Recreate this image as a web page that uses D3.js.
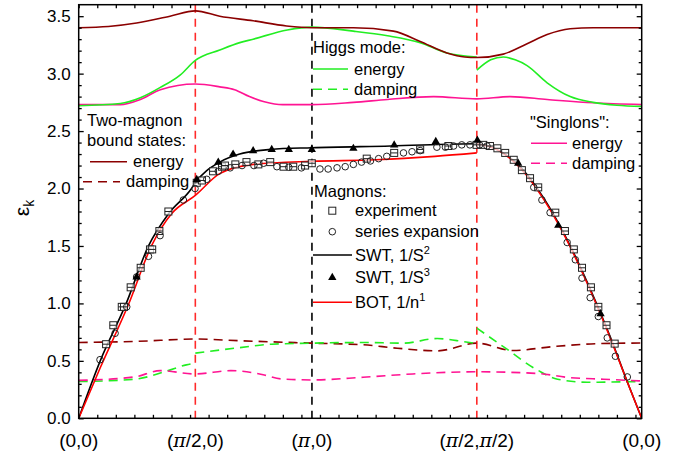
<!DOCTYPE html>
<html>
<head>
<meta charset="utf-8">
<script src="https://cdn.jsdelivr.net/npm/d3@7"></script>
<style>
  body { margin: 0; background: #fff; }
  text { font-family: Arial, "Liberation Sans", sans-serif; fill: #000; }
</style>
</head>
<body>
<svg id="chart" width="693" height="458"></svg>
<script>
// x is the distance along the path (0,0)-(pi/2,0)-(pi,0)-(pi/2,pi/2)-(0,0)
const xTickPos = [0, 1.571, 3.142, 5.363, 7.584];
const xTickLabels = ["(0,0)", "(π/2,0)", "(π,0)", "(π/2,π/2)", "(0,0)"];
const yTicks = [0, 0.5, 1.0, 1.5, 2.0, 2.5, 3.0, 3.5];

const twoMagEnergy = [[0,3.40],[0.4,3.41],[0.78,3.44],[1.23,3.50],[1.571,3.546],[1.90,3.50],[2.35,3.46],[2.8,3.415],[3.14,3.40],[3.7,3.40],[4.24,3.37],[4.6,3.28],[4.96,3.18],[5.2,3.145],[5.363,3.14],[5.72,3.17],[6.04,3.26],[6.31,3.34],[6.62,3.39],[6.93,3.40],[7.584,3.40]];
const twoMagDamping = [[0,0.66],[0.8,0.67],[1.571,0.69],[2.17,0.675],[3.14,0.654],[3.83,0.64],[4.29,0.61],[4.83,0.587],[5.363,0.654],[5.85,0.59],[6.39,0.624],[7.0,0.65],[7.584,0.655]];

const higgsEnergyA = [[0,2.72],[0.56,2.74],[0.83,2.79],[1.10,2.88],[1.37,2.99],[1.571,3.115],[1.90,3.205],[2.17,3.27],[2.35,3.30],[2.81,3.38],[3.14,3.405],[3.70,3.37],[4.16,3.33],[4.60,3.27],[4.96,3.18],[5.363,3.145]];
const higgsEnergyB = [[5.363,3.03],[5.55,3.12],[5.72,3.145],[5.88,3.12],[6.04,3.07],[6.31,2.92],[6.62,2.80],[6.93,2.75],[7.25,2.725],[7.584,2.715]];
const higgsDampingA = [[0,0.32],[0.75,0.34],[1.18,0.41],[1.45,0.465],[1.571,0.48]];
const higgsDampingB = [[1.571,0.567],[2.17,0.615],[2.6,0.645],[3.14,0.654],[3.83,0.66],[4.37,0.654],[4.83,0.694],[5.18,0.668],[5.363,0.65]];
const higgsDampingC = [[5.363,0.785],[5.72,0.624],[6.18,0.42],[6.45,0.34],[6.85,0.314],[7.584,0.32]];

const singlonEnergy = [[0,2.73],[0.56,2.73],[0.83,2.775],[1.10,2.86],[1.571,2.91],[1.90,2.885],[2.10,2.86],[2.30,2.80],[2.50,2.755],[2.75,2.73],[3.14,2.73],[3.70,2.75],[4.16,2.775],[4.78,2.80],[5.363,2.78],[5.81,2.80],[6.31,2.775],[6.93,2.746],[7.584,2.73]];
const singlonDamping = [[0,0.33],[0.75,0.36],[1.10,0.415],[1.571,0.386],[2.05,0.415],[2.5,0.377],[2.72,0.343],[3.14,0.334],[3.83,0.357],[4.5,0.386],[5.363,0.405],[6.18,0.39],[6.62,0.354],[7.07,0.34],[7.584,0.325]];

const swt2 = [[0,0],[0.29,0.50],[0.64,1.0],[0.94,1.5],[1.21,1.78],[1.52,2.0],[1.571,2.05],[1.90,2.23],[2.17,2.30],[2.58,2.34],[3.14,2.355],[4.2,2.37],[5.363,2.39],[5.66,2.33],[5.96,2.18],[6.26,1.92],[6.56,1.58],[6.86,1.17],[7.16,0.71],[7.40,0.30],[7.584,0]];
const bot1A = [[0,0],[0.29,0.44],[0.67,0.99],[0.98,1.5],[1.25,1.78],[1.571,1.94],[1.90,2.13],[2.35,2.21],[3.14,2.237],[4.0,2.25],[4.8,2.28],[5.363,2.31]];
const bot1B = [[5.363,2.39],[5.66,2.33],[5.96,2.17],[6.26,1.91],[6.56,1.57],[6.86,1.16],[7.16,0.70],[7.40,0.30],[7.584,0]];

const experiment = [[0.369,0.645],[0.466,0.81],[0.58,0.97],[0.61,0.97],[0.70,1.14],[0.835,1.31],[0.96,1.47],[0.99,1.47],[1.087,1.63],[1.208,1.80],[1.59,2.05],[1.66,2.07],[1.81,2.15],[1.93,2.19],[1.97,2.20],[2.11,2.21],[2.26,2.23],[2.42,2.21],[2.58,2.23],[2.76,2.19],[2.89,2.19],[3.05,2.20],[3.14,2.22],[3.88,2.26],[4.25,2.31],[4.60,2.34],[4.98,2.37],[5.36,2.38],[5.45,2.38],[5.54,2.37],[5.64,2.35],[5.745,2.31],[5.86,2.25],[5.97,2.16],[6.08,2.09],[6.19,2.01],[6.42,1.79],[6.55,1.63],[6.67,1.47],[6.78,1.31],[6.90,1.14],[7.00,0.97],[7.11,0.81],[7.22,0.65]];
const seriesExp = [[0.287,0.51],[0.49,0.74],[0.647,0.97],[0.78,1.23],[0.94,1.41],[1.096,1.59],[1.41,1.90],[1.567,2.00],[1.725,2.08],[1.88,2.15],[2.04,2.18],[2.20,2.20],[2.36,2.20],[2.49,2.22],[2.67,2.19],[2.83,2.185],[3.00,2.18],[3.25,2.17],[3.36,2.17],[3.48,2.18],[3.59,2.19],[3.70,2.21],[3.81,2.23],[3.93,2.24],[4.04,2.26],[4.15,2.28],[4.375,2.31],[4.49,2.32],[4.60,2.33],[4.825,2.36],[4.94,2.36],[5.05,2.37],[5.16,2.38],[5.27,2.38],[5.40,2.38],[5.50,2.37],[6.13,2.01],[6.24,1.90],[6.35,1.79],[6.58,1.53],[6.69,1.38],[6.78,1.22],[6.89,1.05],[7.0,0.886],[7.12,0.70],[7.23,0.54],[7.39,0.36]];
const swt3 = [[0.78,1.22],[1.59,2.07],[1.88,2.22],[2.08,2.29],[2.35,2.32],[2.60,2.33],[2.83,2.33],[3.14,2.33],[3.70,2.34],[4.25,2.37],[4.81,2.40],[5.37,2.41],[5.92,2.21],[6.46,1.67],[7.03,0.90]];

const svg = d3.select("#chart");
const margin = { left: 78.7, right: 51.3, top: 4.7, bottom: 39.7 };
const W = 693 - margin.left - margin.right;
const H = 458 - margin.top - margin.bottom;

const x = d3.scaleLinear().domain([0, 7.584]).range([0, W]);
const y = d3.scaleLinear().domain([0, 3.6]).range([H, 0]);

const g = svg.append("g").attr("transform", `translate(${margin.left},${margin.top})`);

g.append("clipPath").attr("id", "clip")
  .append("rect").attr("width", W).attr("height", H);

const plot = g.append("g").attr("clip-path", "url(#clip)");

// vertical markers
const markers = [
  { pos: xTickPos[1], color: "#ff2a2a" },
  { pos: xTickPos[2], color: "#000" },
  { pos: xTickPos[3], color: "#ff2a2a" }
];
plot.selectAll(".marker").data(markers).enter().append("line")
  .attr("x1", d => x(d.pos)).attr("x2", d => x(d.pos))
  .attr("y1", 0).attr("y2", H)
  .attr("stroke", d => d.color)
  .attr("stroke-width", 1.6)
  .attr("stroke-dasharray", "8,6");

const line = d3.line()
  .x(d => x(d[0]))
  .y(d => y(d[1]))
  .curve(d3.curveMonotoneX);

const maroon = "#8b0000";
const green = "#22ee22";
const pink = "#ff1493";
const red = "#ff0000";

const curves = [
  { data: twoMagDamping, color: maroon, dash: "9,6" },
  { data: higgsDampingA, color: green, dash: "9,6" },
  { data: higgsDampingB, color: green, dash: "9,6" },
  { data: higgsDampingC, color: green, dash: "9,6" },
  { data: singlonDamping, color: pink, dash: "9,6" },
  { data: singlonEnergy, color: pink },
  { data: higgsEnergyA, color: green },
  { data: higgsEnergyB, color: green },
  { data: twoMagEnergy, color: maroon },
  { data: swt2, color: "#000" },
  { data: bot1A, color: red },
  { data: bot1B, color: red }
];

plot.selectAll(".curve").data(curves).enter().append("path")
  .attr("d", d => line(d.data))
  .attr("fill", "none")
  .attr("stroke", d => d.color)
  .attr("stroke-width", 1.6)
  .attr("stroke-dasharray", d => d.dash || null);

// symbols
const sq = 7;
const squares = plot.selectAll(".sq").data(experiment).enter().append("g")
  .attr("transform", d => `translate(${x(d[0])},${y(d[1])})`);
squares.append("rect")
  .attr("x", -sq / 2).attr("y", -sq / 2).attr("width", sq).attr("height", sq)
  .attr("fill", "#fff").attr("fill-opacity", 0.7)
  .attr("stroke", "#222").attr("stroke-width", 1);
squares.append("line")
  .attr("x1", -sq / 2).attr("x2", sq / 2).attr("y1", 0).attr("y2", 0)
  .attr("stroke", "#222").attr("stroke-width", 1);

plot.selectAll(".circ").data(seriesExp).enter().append("circle")
  .attr("cx", d => x(d[0])).attr("cy", d => y(d[1]))
  .attr("r", 3.3)
  .attr("fill", "none").attr("stroke", "#222").attr("stroke-width", 1);

const tri = d3.symbol().type(d3.symbolTriangle).size(30);
plot.selectAll(".tri").data(swt3).enter().append("path")
  .attr("d", tri)
  .attr("transform", d => `translate(${x(d[0])},${y(d[1]) - 1})`)
  .attr("fill", "#000");

// axes
const yMinor = d3.range(0, 36).map(i => i / 10).filter(v => Math.round(v * 10) % 5 !== 0);
const xMinor = d3.range(0, 31).map(i => i * 0.25);

const axisStyle = sel => {
  sel.select(".domain").remove();
  sel.selectAll("line").attr("stroke", "#000").attr("stroke-width", 1.3);
};

g.append("g").call(d3.axisLeft(y).tickValues(yTicks).tickSize(-5).tickPadding(8).tickFormat(d3.format(".1f")))
  .call(axisStyle)
  .selectAll("text").attr("font-size", 17).attr("font-family", "Arial, 'Liberation Sans', sans-serif");
g.append("g").call(d3.axisLeft(y).tickValues(yMinor).tickSize(-3).tickFormat(""))
  .call(axisStyle);
g.append("g").attr("transform", `translate(${W},0)`)
  .call(d3.axisRight(y).tickValues(yTicks).tickSize(-5).tickFormat(""))
  .call(axisStyle);
g.append("g").attr("transform", `translate(${W},0)`)
  .call(d3.axisRight(y).tickValues(yMinor).tickSize(-3).tickFormat(""))
  .call(axisStyle);
g.append("g").attr("transform", `translate(0,${H})`)
  .call(d3.axisBottom(x).tickValues(xMinor).tickSize(-3.5).tickFormat(""))
  .call(axisStyle);
g.append("g")
  .call(d3.axisTop(x).tickValues(xMinor).tickSize(-3.5).tickFormat(""))
  .call(axisStyle);

g.append("rect")
  .attr("width", W).attr("height", H)
  .attr("fill", "none").attr("stroke", "#000").attr("stroke-width", 1.5);

// x labels with italic pi
xTickPos.forEach((p, i) => {
  const t = g.append("text")
    .attr("x", x(p)).attr("y", H + 29)
    .attr("text-anchor", "middle")
    .attr("font-size", 19);
  xTickLabels[i].split(/(π)/).forEach(part => {
    if (!part) return;
    const ts = t.append("tspan").text(part);
    if (part === "π") ts.attr("font-style", "italic").attr("font-family", "'DejaVu Serif', serif");
  });
});

// y label
const yl = svg.append("text")
  .attr("transform", "translate(29,208) rotate(-90)")
  .attr("text-anchor", "middle")
  .attr("font-size", 21);
yl.append("tspan").text("ε");
yl.append("tspan").attr("font-size", 14).attr("dy", 5).text("k");

// legends
const fs = 16.5;
const addText = (tx, ty, str) =>
  svg.append("text").attr("x", tx).attr("y", ty).attr("font-size", fs).text(str);
const addLine = (x1, x2, yy, color, dash) =>
  svg.append("line").attr("x1", x1).attr("x2", x2).attr("y1", yy).attr("y2", yy)
    .attr("stroke", color).attr("stroke-width", 1.6).attr("stroke-dasharray", dash || null);

// two-magnon
addText(87, 126, "Two-magnon");
addText(87, 146, "bound states:");
addLine(90, 127, 161.7, maroon);
addText(133, 167, "energy");
addLine(83, 120, 181.7, maroon, "9,6");
addText(126, 187, "damping");

// Higgs
addText(313, 53, "Higgs mode:");
addLine(313, 348, 69, green);
addText(354, 74.5, "energy");
addLine(313, 348, 89.3, green, "9,6");
addText(354, 94.5, "damping");

// singlons
addText(530, 128.3, "\"Singlons\":");
addLine(531, 567, 143.3, pink);
addText(572, 148.5, "energy");
addLine(531, 567, 163.3, pink, "9,6");
addText(572, 168.5, "damping");

// magnons
addText(314, 196.7, "Magnons:");
const ex = svg.append("g").attr("transform", "translate(332.3,210.7)");
ex.append("rect").attr("x", -sq / 2).attr("y", -sq / 2).attr("width", sq).attr("height", sq)
  .attr("fill", "#fff").attr("stroke", "#222");
addText(355, 216, "experiment");
svg.append("circle").attr("cx", 332.3).attr("cy", 231.7).attr("r", 3.3)
  .attr("fill", "none").attr("stroke", "#222");
addText(355, 237, "series expansion");
addLine(313, 352, 255, "#000");
const t1 = addText(355, 261, "SWT, 1/S");
t1.append("tspan").attr("font-size", 11).attr("dy", -7).text("2");
svg.append("path").attr("d", tri).attr("transform", "translate(332.3,277.5)").attr("fill", "#000");
const t2 = addText(355, 283, "SWT, 1/S");
t2.append("tspan").attr("font-size", 11).attr("dy", -7).text("3");
addLine(313, 352, 302.3, red);
const t3 = addText(355, 308, "BOT, 1/n");
t3.append("tspan").attr("font-size", 11).attr("dy", -7).text("1");
</script>
</body>
</html>
